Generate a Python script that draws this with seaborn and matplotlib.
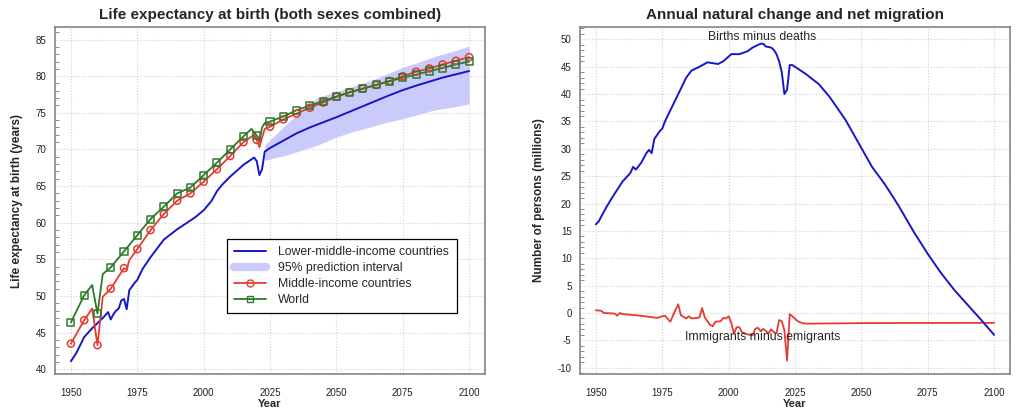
import numpy as np
import pandas as pd
import seaborn as sns
import matplotlib
matplotlib.use("Agg")
import matplotlib.pyplot as plt
from matplotlib.lines import Line2D
from matplotlib.ticker import MultipleLocator

# ---- Life expectancy: lower-middle-income countries (annual line)
lmic_years = [1950, 1952, 1955, 1958, 1960, 1962, 1964, 1965, 1966, 1967, 1968, 1969,
              1970, 1971, 1972, 1974, 1975, 1977, 1980, 1985, 1990, 1995, 1997, 2000,
              2003, 2005, 2007, 2010, 2015, 2019, 2020, 2021, 2022, 2023, 2025, 2030,
              2035, 2040, 2045, 2050, 2060, 2070, 2075, 2080, 2090, 2100]
lmic_le = [41.1, 42.2, 44.4, 45.6, 46.3, 47.0, 47.8, 46.8, 47.5, 48.0, 48.3, 49.4,
           49.6, 48.2, 50.8, 51.8, 52.2, 53.7, 55.3, 57.7, 59.1, 60.3, 60.8, 61.7,
           63.0, 64.3, 65.2, 66.3, 67.9, 68.9, 68.4, 66.5, 67.3, 69.7, 70.2, 71.2,
           72.2, 73.0, 73.7, 74.4, 75.9, 77.4, 78.1, 78.7, 79.8, 80.7]

# 95% prediction interval for lower-middle-income countries
pi_years = [2023, 2025, 2031, 2037, 2043, 2050, 2056, 2063, 2069, 2075, 2081, 2087, 2094, 2100]
pi_low = [68.5, 68.7, 69.2, 69.9, 70.6, 71.7, 72.4, 73.1, 73.7, 74.2, 74.8, 75.4, 75.8, 76.2]
pi_high = [70.6, 71.3, 73.4, 75.4, 77.1, 77.9, 78.6, 79.4, 80.3, 81.2, 81.9, 82.7, 83.4, 84.1]

# Middle-income countries
mic_years = [1950, 1955, 1958, 1960, 1962, 1965, 1968, 1970, 1971, 1972, 1975, 1980,
             1985, 1990, 1995, 2000, 2005, 2010, 2015, 2019, 2020, 2021, 2022, 2023,
             2025, 2030, 2035, 2040, 2045, 2050, 2055, 2060, 2065, 2070, 2075, 2080,
             2085, 2090, 2095, 2100]
mic_le = [43.5, 46.7, 48.3, 43.3, 49.9, 51.0, 52.7, 53.8, 53.6, 54.9, 56.4, 59.0,
          61.2, 63.0, 64.0, 65.6, 67.3, 69.1, 71.0, 72.0, 71.3, 70.3, 71.6, 72.8,
          73.1, 74.1, 74.9, 75.7, 76.4, 77.2, 77.8, 78.3, 78.8, 79.35, 80.0, 80.6,
          81.05, 81.6, 82.1, 82.6]

# World
world_years = [1950, 1955, 1958, 1960, 1962, 1965, 1970, 1975, 1980, 1985, 1990, 1995,
               2000, 2005, 2010, 2015, 2018, 2020, 2021, 2022, 2023, 2025, 2030, 2035,
               2040, 2045, 2050, 2055, 2060, 2065, 2070, 2075, 2080, 2085, 2090, 2095, 2100]
world_le = [46.4, 50.1, 51.5, 47.6, 53.0, 53.9, 56.1, 58.3, 60.5, 62.2, 64.0, 64.8,
            66.5, 68.2, 70.0, 71.8, 72.8, 71.9, 71.1, 73.0, 73.6, 73.8, 74.5, 75.35,
            76.0, 76.6, 77.2, 77.8, 78.3, 78.8, 79.3, 79.8, 80.2, 80.7, 81.1, 81.6, 82.0]

# ---- Natural change (births minus deaths), millions
nat_years = [1950, 1951, 1954, 1956, 1960, 1963, 1964, 1965, 1967, 1969, 1970, 1971, 1972,
             1974, 1975, 1976, 1978, 1981, 1984, 1986, 1989, 1992, 1996, 1998, 2001,
             2004, 2007, 2009, 2012, 2013, 2014, 2016, 2017, 2018, 2019, 2020, 2021,
             2022, 2023, 2024, 2029, 2034, 2038, 2044, 2049, 2054, 2059, 2064, 2070,
             2075, 2080, 2085, 2090, 2095, 2100]
nat_change = [16.2, 16.7, 19.4, 21.0, 24.0, 25.6, 26.7, 26.2, 27.4, 29.2, 29.8, 29.2, 31.8,
              33.2, 33.7, 35.0, 37.0, 40.0, 43.0, 44.3, 45.0, 45.8, 45.5, 46.0, 47.3,
              47.3, 47.8, 48.5, 49.2, 49.2, 48.7, 48.5, 48.1, 47.3, 46.0, 44.0, 40.0,
              40.8, 45.3, 45.3, 43.7, 41.8, 39.5, 35.3, 31.0, 26.7, 23.4, 19.6, 14.6,
              10.8, 7.3, 4.2, 1.5, -1.2, -4.0]

# ---- Net migration (immigrants minus emigrants), millions
mig_years = [1950, 1952, 1953, 1957, 1958, 1959, 1960, 1965, 1970, 1973, 1975, 1976, 1978,
             1980, 1981, 1982, 1984, 1985, 1986, 1988, 1989, 1990, 1991, 1993, 1994, 1995,
             1997, 1998, 1999, 2000, 2001, 2002, 2003, 2004, 2005, 2007, 2009, 2010, 2011,
             2012, 2013, 2014, 2015, 2016, 2017, 2018, 2019, 2020, 2021, 2022, 2023,
             2024, 2026, 2028, 2030, 2050, 2100]
net_migration = [0.5, 0.4, 0.0, -0.1, -0.5, 0.0, -0.2, -0.4, -0.7, -0.9, -0.6, -0.5, -1.6,
                 0.6, 1.6, -0.4, -1.0, -0.6, -1.0, -0.9, -0.8, 0.9, -0.8, -2.2, -2.4, -1.6,
                 -1.5, -0.9, -1.0, -0.6, -1.8, -3.8, -2.6, -2.6, -3.5, -3.9, -4.1, -2.9, -2.7,
                 -3.3, -2.9, -3.3, -3.7, -3.0, -3.5, -3.7, -1.3, -1.5, -3.2, -8.7, -0.2,
                 -0.6, -1.5, -1.9, -1.95, -1.85, -1.8]

BLUE = "#1717c9"
RED = "#e53b32"
GREEN = "#2b7a2b"
BAND = "#cbcbfb"
FRAME = "#7a7a7a"

sns.set_style("white")
plt.rcParams["font.family"] = ["Liberation Sans", "DejaVu Sans"]
plt.rcParams["axes.unicode_minus"] = False

fig = plt.figure(figsize=(10.24, 4.15), dpi=100)
ax1 = fig.add_axes([0.0537, 0.0988, 0.42, 0.836])
ax2 = fig.add_axes([0.5664, 0.0988, 0.42, 0.836])

lmic = pd.DataFrame({"year": lmic_years, "le": lmic_le})
mic = pd.DataFrame({"year": mic_years, "le": mic_le})
world = pd.DataFrame({"year": world_years, "le": world_le})

ax1.fill_between(pi_years, pi_low, pi_high, color=BAND, lw=0, zorder=1)
sns.lineplot(data=lmic, x="year", y="le", ax=ax1, color=BLUE, lw=1.4, zorder=3)
sns.lineplot(data=mic, x="year", y="le", ax=ax1, color=RED, lw=1.3, zorder=4)
sns.lineplot(data=world, x="year", y="le", ax=ax1, color=GREEN, lw=1.3, zorder=5)
mic5 = mic[mic["year"] % 5 == 0]
world5 = world[world["year"] % 5 == 0]
ax1.scatter(mic5["year"], mic5["le"], marker="o", s=26, facecolors="none",
            edgecolors=RED, linewidths=1.1, zorder=6)
ax1.scatter(world5["year"], world5["le"], marker="s", s=26, facecolors="none",
            edgecolors=GREEN, linewidths=1.1, zorder=7)

ax1.set_xlim(1944, 2106)
ax1.set_ylim(39.36, 86.7)
ax1.yaxis.set_major_locator(MultipleLocator(5))
ax1.yaxis.set_minor_locator(MultipleLocator(1))
ax1.set_title("Life expectancy at birth (both sexes combined)", fontsize=11,
              fontweight="bold", pad=6)
ax1.set_ylabel("Life expectancy at birth (years)", fontsize=8.5, fontweight="bold", labelpad=9)

handles = [
    Line2D([], [], color=BLUE, lw=1.4),
    Line2D([], [], color=BAND, lw=6, solid_capstyle="round"),
    Line2D([], [], color=RED, lw=1.3, marker="o", mfc="none", mec=RED, ms=5),
    Line2D([], [], color=GREEN, lw=1.3, marker="s", mfc="none", mec=GREEN, ms=5),
]
labels = ["Lower-middle-income countries", "95% prediction interval",
          "Middle-income countries", "World"]
leg = ax1.legend(handles, labels, loc="upper left", bbox_to_anchor=(0.4, 0.389),
                 fontsize=8.8, frameon=True, fancybox=False, framealpha=1,
                 edgecolor="black", handlelength=2.6, borderpad=0.6,
                 labelspacing=0.32, handletextpad=1.0, borderaxespad=0)
leg.get_frame().set_linewidth(0.9)

mig_df = pd.DataFrame({"year": mig_years, "val": net_migration})
nat_df = pd.DataFrame({"year": nat_years, "val": nat_change})
sns.lineplot(data=mig_df, x="year", y="val", ax=ax2, color=RED, lw=1.3, zorder=3)
sns.lineplot(data=nat_df, x="year", y="val", ax=ax2, color=BLUE, lw=1.4, zorder=4)
ax2.set_xlim(1944, 2106)
ax2.set_ylim(-11.15, 52.25)
ax2.yaxis.set_major_locator(MultipleLocator(5))
ax2.yaxis.set_minor_locator(MultipleLocator(1))
ax2.set_title("Annual natural change and net migration", fontsize=11,
              fontweight="bold", pad=6)
ax2.set_ylabel("Number of persons (millions)", fontsize=8.5, fontweight="bold", labelpad=9)
ax2.text(2012.7, 50.4, "Births minus deaths", ha="center", va="center", fontsize=8.8)
ax2.text(2012.7, -4.4, "Immigrants minus emigrants", ha="center", va="center", fontsize=8.8)

for ax in (ax1, ax2):
    ax.set_xticks([1950, 1975, 2000, 2025, 2050, 2075, 2100])
    ax.set_xlabel("Year", fontsize=8, fontweight="bold", labelpad=1)
    ax.grid(True, which="major", color="#d0d0d0", ls=":", lw=0.8)
    for sp in ax.spines.values():
        sp.set_color(FRAME)
        sp.set_linewidth(1.1)
    ax.tick_params(axis="x", which="major", direction="out", length=6, width=0.8,
                   color=FRAME, labelsize=7, labelcolor="#222222", pad=4)
    ax.tick_params(axis="y", which="major", direction="inout", length=6, width=0.8,
                   color=FRAME, labelsize=7, labelcolor="#222222", pad=3)
    ax.tick_params(axis="y", which="minor", direction="in", length=3, width=0.6,
                   color=FRAME, left=True)
    ax.set_axisbelow(True)

fig.savefig("out.png", dpi=100)
